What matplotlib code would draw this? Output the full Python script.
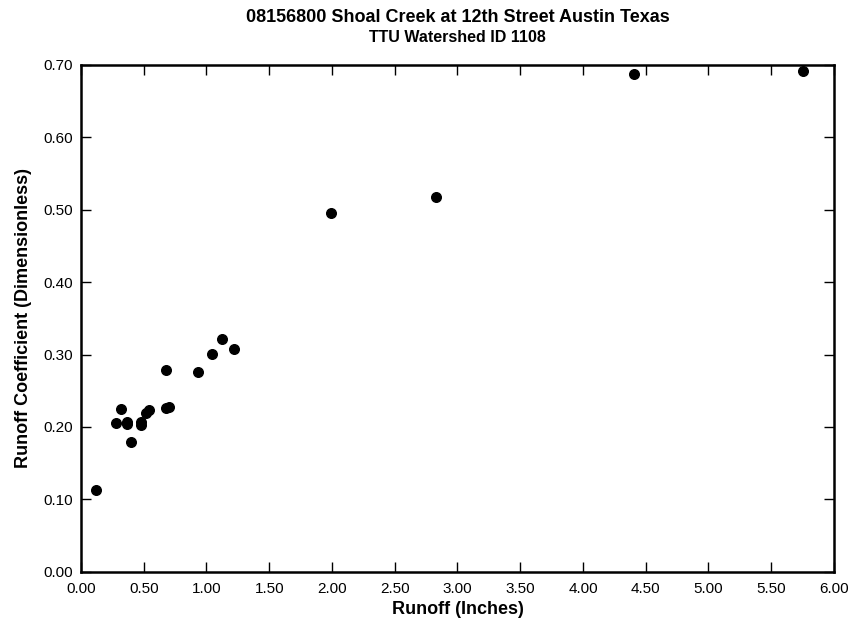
import matplotlib
matplotlib.use("Agg")
import matplotlib.pyplot as plt
from matplotlib.ticker import MultipleLocator, FormatStrFormatter

plt.rcParams['font.family'] = ['Liberation Sans', 'DejaVu Sans']

runoff = [0.12, 0.28, 0.32, 0.37, 0.37, 0.40, 0.48, 0.48, 0.52, 0.54,
          0.68, 0.68, 0.70, 0.93, 1.04, 1.12, 1.22, 1.99, 2.83, 4.41, 5.75]
coef = [0.113, 0.205, 0.225, 0.207, 0.204, 0.179, 0.207, 0.203, 0.219, 0.223,
        0.278, 0.226, 0.227, 0.276, 0.301, 0.322, 0.307, 0.495, 0.517, 0.687, 0.692]

title = "08156800 Shoal Creek at 12th Street Austin Texas"
subtitle = "TTU Watershed ID 1108"
xlabel = "Runoff (Inches)"
ylabel = "Runoff Coefficient (Dimensionless)"

W, H = 854, 628
fig = plt.figure(figsize=(W / 100, H / 100), dpi=100)
left, right, top, bottom = 81, 834, 65, 571.7
ax = fig.add_axes([left / W, 1 - bottom / H, (right - left) / W, (bottom - top) / H])
ax.scatter(runoff, coef, s=48, color='black', zorder=3, clip_on=False)

ax.set_xlim(0, 6.0)
ax.set_ylim(0, 0.70)
ax.xaxis.set_major_locator(MultipleLocator(0.5))
ax.yaxis.set_major_locator(MultipleLocator(0.1))
ax.xaxis.set_major_formatter(FormatStrFormatter('%.2f'))
ax.yaxis.set_major_formatter(FormatStrFormatter('%.2f'))
ax.tick_params(direction='in', length=7.5, width=1.0, top=True, right=True,
               labelsize=11)
ax.tick_params(axis='x', pad=7.5)
ax.tick_params(axis='y', pad=6)
for sp in ax.spines.values():
    sp.set_linewidth(1.8)

ax.set_xlabel(xlabel, fontsize=13, fontweight='bold', va='center')
ax.xaxis.set_label_coords(0.5, (bottom - 610) / (bottom - top))
ax.set_ylabel(ylabel, fontsize=13, fontweight='bold', va='center')
ax.yaxis.set_label_coords((24 - left) / (right - left), 0.5)

cx = (left + right) / 2 / W
fig.text(cx, 1 - 18 / H, title, ha='center', va='center', fontsize=13, fontweight='bold')
fig.text(cx, 1 - 37.5 / H, subtitle, ha='center', va='center', fontsize=11.5, fontweight='bold')

fig.savefig("out.png", dpi=100)
